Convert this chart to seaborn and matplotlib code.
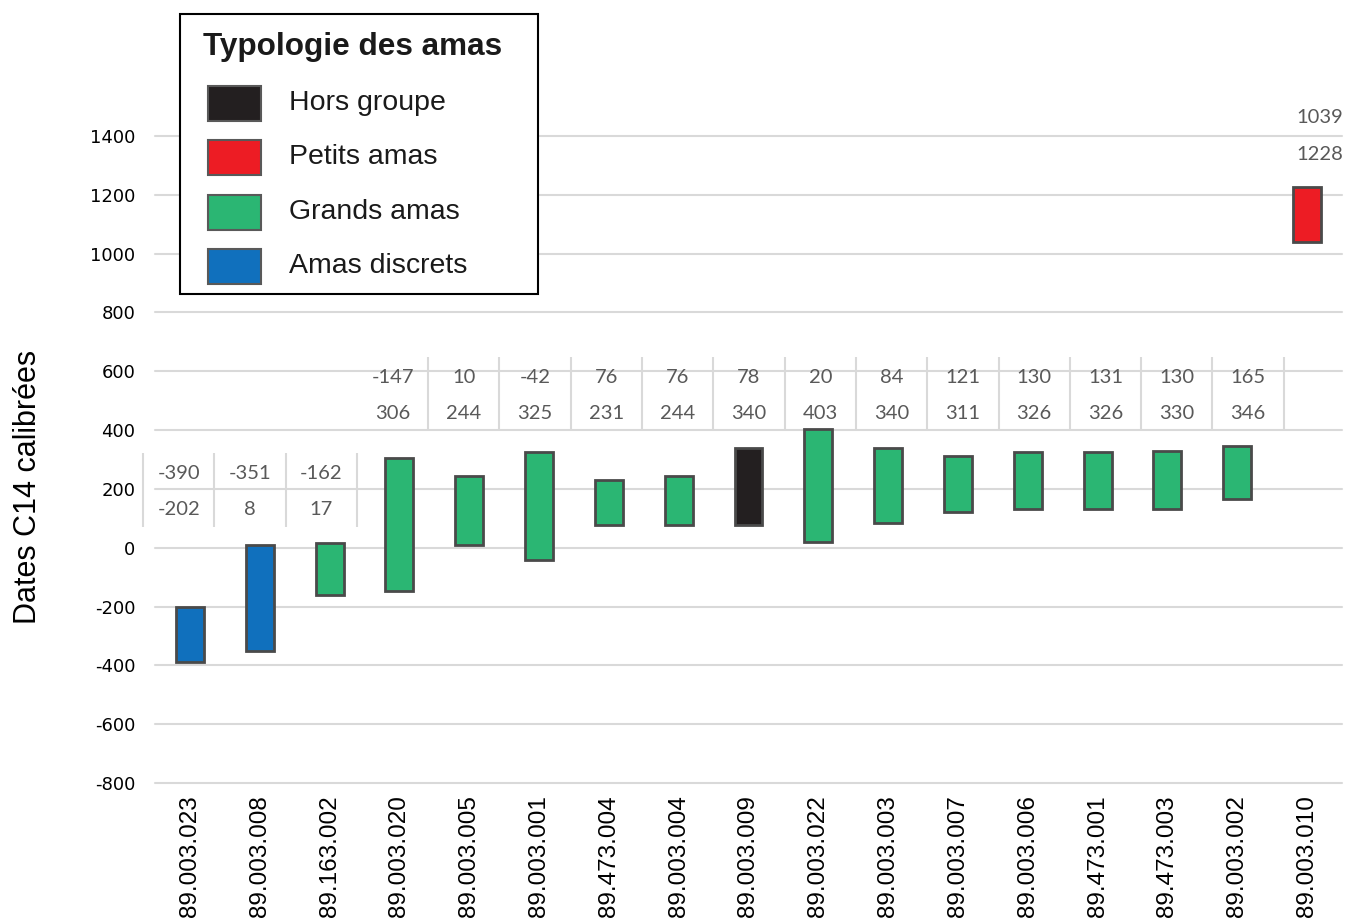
import matplotlib
matplotlib.use("Agg")
import matplotlib.pyplot as plt
import matplotlib.transforms as mtransforms
from matplotlib.patches import Rectangle
import pandas as pd
import seaborn as sns

# Calibrated radiocarbon date ranges per sample
samples = [
    "89.003.023", "89.003.008", "89.163.002", "89.003.020", "89.003.005",
    "89.003.001", "89.473.004", "89.003.004", "89.003.009", "89.003.022",
    "89.003.003", "89.003.007", "89.003.006", "89.473.001", "89.473.003",
    "89.003.002", "89.003.010",
]
date_low = [-390, -351, -162, -147, 10, -42, 76, 76, 78, 20, 84, 121, 130, 131, 130, 165, 1039]
date_high = [-202, 8, 17, 306, 244, 325, 231, 244, 340, 403, 340, 311, 326, 326, 330, 346, 1228]
amas_type = [
    "Amas discrets", "Amas discrets", "Grands amas", "Grands amas", "Grands amas",
    "Grands amas", "Grands amas", "Grands amas", "Hors groupe", "Grands amas",
    "Grands amas", "Grands amas", "Grands amas", "Grands amas", "Grands amas",
    "Grands amas", "Petits amas",
]
type_names = ["Hors groupe", "Petits amas", "Grands amas", "Amas discrets"]
type_colors = ["#231F20", "#ED1C24", "#2BB673", "#1070BD"]
y_ticks = list(range(-800, 1401, 200))

sns.set_theme(style="white")
plt.rcParams["font.family"] = ["Liberation Sans", "DejaVu Sans"]
plt.rcParams["axes.unicode_minus"] = False

W, H = 1348, 924
fig = plt.figure(figsize=(W / 100, H / 100), dpi=100)
ax = fig.add_axes([155 / W, 1 - 783 / H, 1187 / W, 647 / H])

df = pd.DataFrame({"sample": samples, "low": date_low, "high": date_high, "type": amas_type})
df["span"] = df["high"] - df["low"]

sns.barplot(
    data=df, x="sample", y="span", order=samples,
    bottom=df["low"].to_numpy(), width=0.4, errorbar=None,
    color="#2BB673", edgecolor="#4A4A4A", linewidth=2.0,
    ax=ax, zorder=3,
)
palette = dict(zip(type_names, type_colors))
for patch, t in zip(ax.patches, df["type"]):
    patch.set_facecolor(palette[t])

ax.set_xlim(-0.5, len(samples) - 0.5)
ax.set_ylim(-800, 1400)
ax.set_yticks(y_ticks)
ax.set_xlabel("")
ax.set_ylabel("")
for s in ax.spines.values():
    s.set_visible(False)
ax.set_axisbelow(True)
ax.yaxis.grid(True, color="#D9D9D9", linewidth=1.5)
ax.xaxis.grid(False)
for gl in ax.get_ygridlines():
    gl.set_clip_on(False)

ax.tick_params(axis="x", length=0, pad=9, labelsize=17.5, labelrotation=90)
ax.tick_params(axis="y", length=0, pad=14, labelsize=13)
for lab in ax.get_yticklabels():
    lab.set_fontfamily("DejaVu Sans")
    lab.set_color("black")
for lab in ax.get_xticklabels():
    lab.set_color("black")

# Value table printed above the bars (low value on top row, high value below)
blend = mtransforms.blended_transform_factory(ax.transAxes, ax.transData)
cell_left = -12 / 1187
cell_w = 71.3 / 1187
label_band = [0, 0, 0] + [1] * 13 + [2]
band_rows = {0: (252, 129), 1: (578, 456), 2: (1462, 1336)}
band_rules = {0: ((71, 323), range(0, 4)), 1: ((401, 649), range(4, 17))}

for i, (lo, hi) in enumerate(zip(date_low, date_high)):
    xc = cell_left + cell_w * (i + 0.5)
    r1, r2 = band_rows[label_band[i]]
    for val, yy in ((lo, r1), (hi, r2)):
        ax.text(xc, yy, f"{val}", transform=blend, ha="center", va="center",
                fontsize=14.5, color="#595959", family=["Lato", "DejaVu Sans"],
                clip_on=False, zorder=4)

for (y0, y1), cols in band_rules.values():
    xs = [cell_left + cell_w * b for b in cols]
    ax.vlines(xs, y0, y1, transform=blend, colors="#D9D9D9", linewidth=1.5,
              clip_on=False, zorder=1)

fig.text(28 / W, 1 - 487 / H, "Dates C14 calibrées", rotation=90,
         ha="center", va="center", fontsize=22, color="black")

# Legend box
fig.patches.append(Rectangle((180 / W, 1 - 294 / H), 358 / W, 280 / H,
                             transform=fig.transFigure, facecolor="white",
                             edgecolor="black", linewidth=1.5, zorder=5))
fig.text(203 / W, 1 - 47 / H, "Typologie des amas", ha="left", va="center",
         fontsize=22.7, fontweight="bold", color="#1A1A1A", zorder=6)
row_y = [103, 157, 212, 266]
for name, col, yy in zip(type_names, type_colors, row_y):
    fig.patches.append(Rectangle((208 / W, 1 - (yy + 17.5) / H), 53 / W, 35 / H,
                                 transform=fig.transFigure, facecolor=col,
                                 edgecolor="#595959", linewidth=1.5, zorder=6))
    fig.text(289 / W, 1 - yy / H, name, ha="left", va="center",
             fontsize=20.5, color="#1A1A1A", zorder=6)

fig.savefig("out.png", dpi=100)
